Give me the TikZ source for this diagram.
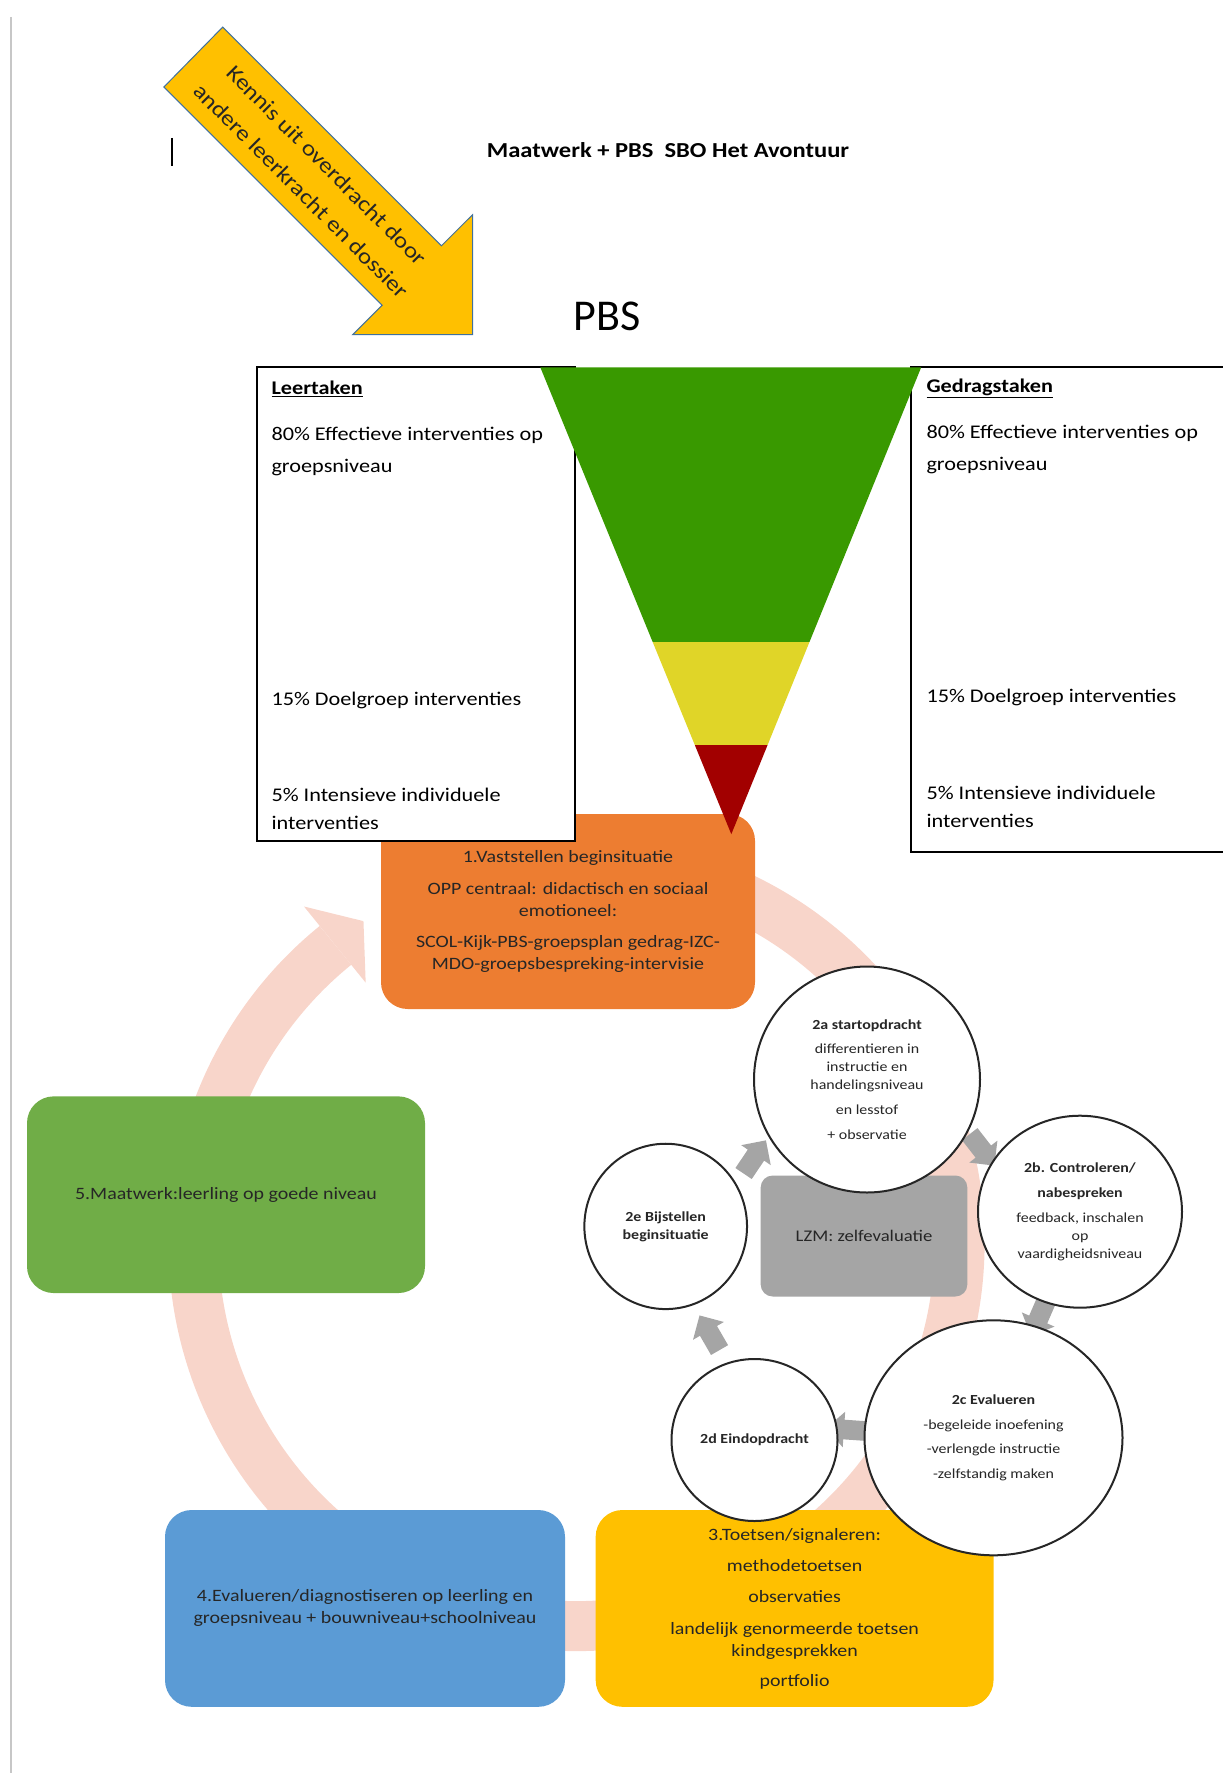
\documentclass[tikz,border=0pt]{standalone}
\usepackage{fontspec}
\setmainfont{Carlito}[FakeStretch=1.15]
\newfontfamily\pbsfont{Carlito}
\usetikzlibrary{shapes.geometric,shapes.arrows}

\definecolor{boxorange}{HTML}{ED7D31}
\definecolor{boxgreen}{HTML}{70AD47}
\definecolor{boxblue}{HTML}{5B9BD5}
\definecolor{boxyellow}{HTML}{FFC000}
\definecolor{lzmgray}{HTML}{A5A5A5}
\definecolor{cyclepink}{HTML}{F8D5CA}
\definecolor{funnelgreen}{RGB}{57,153,0}
\definecolor{funnelyellow}{RGB}{224,213,40}
\definecolor{funnelred}{RGB}{162,0,0}
\definecolor{arrowedge}{HTML}{41719C}

\tikzset{every picture/.style={line width=0.75pt}}
\tikzset{
  roundbox/.style={rounded corners=20pt, draw=none, align=center, inner sep=0pt, text=black!85, font=\fontsize{13}{16.5}\selectfont},
  bubble/.style={ellipse, draw=black!85, line width=1.5pt, fill=white, inner sep=0pt, align=center, text=black!85, font=\fontsize{10.4}{13.5}\selectfont},
  paneltext/.style={anchor=base west, inner sep=0pt, align=left, font=\fontsize{14.5}{24}\selectfont},
  grayarrow/.style={single arrow, fill=lzmgray, draw=none, minimum height=30pt, single arrow head extend=6pt, inner sep=7pt}
}

\begin{document}
\begin{tikzpicture}[x=0.75pt,y=0.75pt,yscale=-1,xscale=1]
\useasboundingbox (0,0) rectangle (1223,1773);

% page edge and cursor
\draw [black!22, line width=1.5pt] (11,17) -- (11,1773);
\draw [line width=1.2pt] (172,138) -- (172,166);

% Big arrow
\draw [fill=boxyellow, draw=arrowedge] (222.7,27.1) -- (441.4,245.8) -- (472.5,214.8) -- (472.5,334.6) -- (352.7,334.6) -- (382.1,305.2) -- (163.9,87) -- cycle ;
\node [rotate=-45, align=center, inner sep=0pt, text=black!85, font=\fontsize{16.5}{27}\selectfont] (kennis) at (314,178) {Kennis uit overdracht door\\andere leerkracht en dossier};

% Text Node
\node [anchor=base, inner sep=0pt, font=\fontsize{16}{19}\selectfont\bfseries] (titel) at (668,158) {Maatwerk + PBS\ \ SBO Het Avontuur};
\node [inner sep=0pt, font=\pbsfont\fontsize{33}{36}\selectfont] (pbs) at (607,316) {PBS};

% cycle band
\coordinate (ringc) at (576.5,1243);
\draw [cyclepink, line width=37.5pt] ([shift={(290:383)}]ringc) arc [start angle=290, end angle=591, radius=383];
\fill [cyclepink] ([shift={(231:335)}]ringc) -- ([shift={(236.5:386)}]ringc) -- ([shift={(231:433)}]ringc) -- cycle;

% step 1
\node [roundbox, fill=boxorange, minimum width=280.5pt, minimum height=146.25pt] (vaststellen) at (568,911.5) {1.Vaststellen beginsituatie\\[7pt]OPP centraal: didactisch en sociaal\\emotioneel:\\[7pt]SCOL-Kijk-PBS-groepsplan gedrag-IZC-\\MDO-groepsbespreking-intervisie};

% Leertaken / Gedragstaken
\draw [fill=white, line width=1.5pt] (256.6,367.3) rectangle (575.3,841);
\draw [fill=white, line width=1.5pt] (1223,367.3) -- (911,367.3) -- (911,852) -- (1223,852);

% funnel
\begin{scope}
\clip (540.3,367.3) -- (921.2,367.3) -- (731.3,834.2) -- cycle;
\fill [funnelgreen] (500,360) rectangle (960,642);
\fill [funnelyellow] (500,642) rectangle (960,745);
\fill [funnelred] (500,745) rectangle (960,840);
\end{scope}

% Text Node (base = last line)
\node [paneltext] (leer) at (271,394) {\underline{\textbf{Leertaken}}};
\node [paneltext] (leer80) at (271,472) {80\% Effectieve interventies op\\groepsniveau};
\node [paneltext] (leer15) at (271,705) {15\% Doelgroep interventies};
\node [paneltext, font=\fontsize{14.5}{21}\selectfont] (leer5) at (271,829) {5\% Intensieve individuele\\interventies};
\node [paneltext] (gedrag) at (926,392) {\underline{\textbf{Gedragstaken}}};
\node [paneltext] (gedrag80) at (926,470) {80\% Effectieve interventies op\\groepsniveau};
\node [paneltext] (gedrag15) at (926,702) {15\% Doelgroep interventies};
\node [paneltext, font=\fontsize{14.5}{21}\selectfont] (gedrag5) at (926,827) {5\% Intensieve individuele\\interventies};

% steps 3, 4, 5
\node [roundbox, fill=boxgreen, minimum width=298.5pt, minimum height=147.5pt] (maatwerk) at (226,1194.7) {5.Maatwerk:leerling op goede niveau};
\node [roundbox, fill=boxblue, minimum width=300pt, minimum height=147.6pt] (evalueren) at (365,1608.4) {4.Evalueren/diagnostiseren op leerling en\\groepsniveau + bouwniveau+schoolniveau};
\node [roundbox, fill=boxyellow, minimum width=298.4pt, minimum height=147.6pt] (toetsen) at (794.6,1608.4) {3.Toetsen/signaleren:\\[7pt]methodetoetsen\\[7pt]observaties\\[7pt]landelijk genormeerde toetsen\\kindgesprekken\\[6pt]portfolio};

% inner cycle
\node [roundbox, rounded corners=9pt, fill=lzmgray, minimum width=155pt, minimum height=90.75pt, font=\fontsize{12.2}{15}\selectfont] (lzm) at (864,1236) {LZM: zelfevaluatie};
\node [grayarrow, rotate=56] (pijl1) at (752,1161) {};
\node [grayarrow, rotate=-52] (pijl2) at (979,1146) {};
\node [grayarrow, rotate=-113.5] (pijl3) at (1041,1313) {};
\node [grayarrow, rotate=176] (pijl4) at (851,1430) {};
\node [grayarrow, rotate=120] (pijl5) at (712,1337) {};

\node [bubble, minimum width=169.5pt, minimum height=169.5pt] (start) at (867,1079.5) {\textbf{2a startopdracht}\\[5pt]differentieren in\\instructie en\\handelingsniveau\\[5pt]en lesstof\\[5pt]+ observatie};
\node [bubble, minimum width=153pt, minimum height=144pt] (controle) at (1080,1211.7) {\textbf{2b. Controleren/}\\[5pt]\textbf{nabespreken}\\[5pt]feedback, inschalen\\op\\vaardigheidsniveau};
\node [bubble, minimum width=193.5pt, minimum height=176.25pt] (evaluatie) at (993.5,1437.8) {\textbf{2c Evalueren}\\[5pt]-begeleide inoefening\\[5pt]-verlengde instructie\\[5pt]-zelfstandig maken};
\node [bubble, minimum width=124.5pt, minimum height=121.5pt] (eind) at (754.5,1440) {\textbf{2d Eindopdracht}};
\node [bubble, minimum width=122pt, minimum height=124pt] (bijstellen) at (665.7,1226.4) {\textbf{2e Bijstellen}\\\textbf{beginsituatie}};

\end{tikzpicture}
\end{document}
